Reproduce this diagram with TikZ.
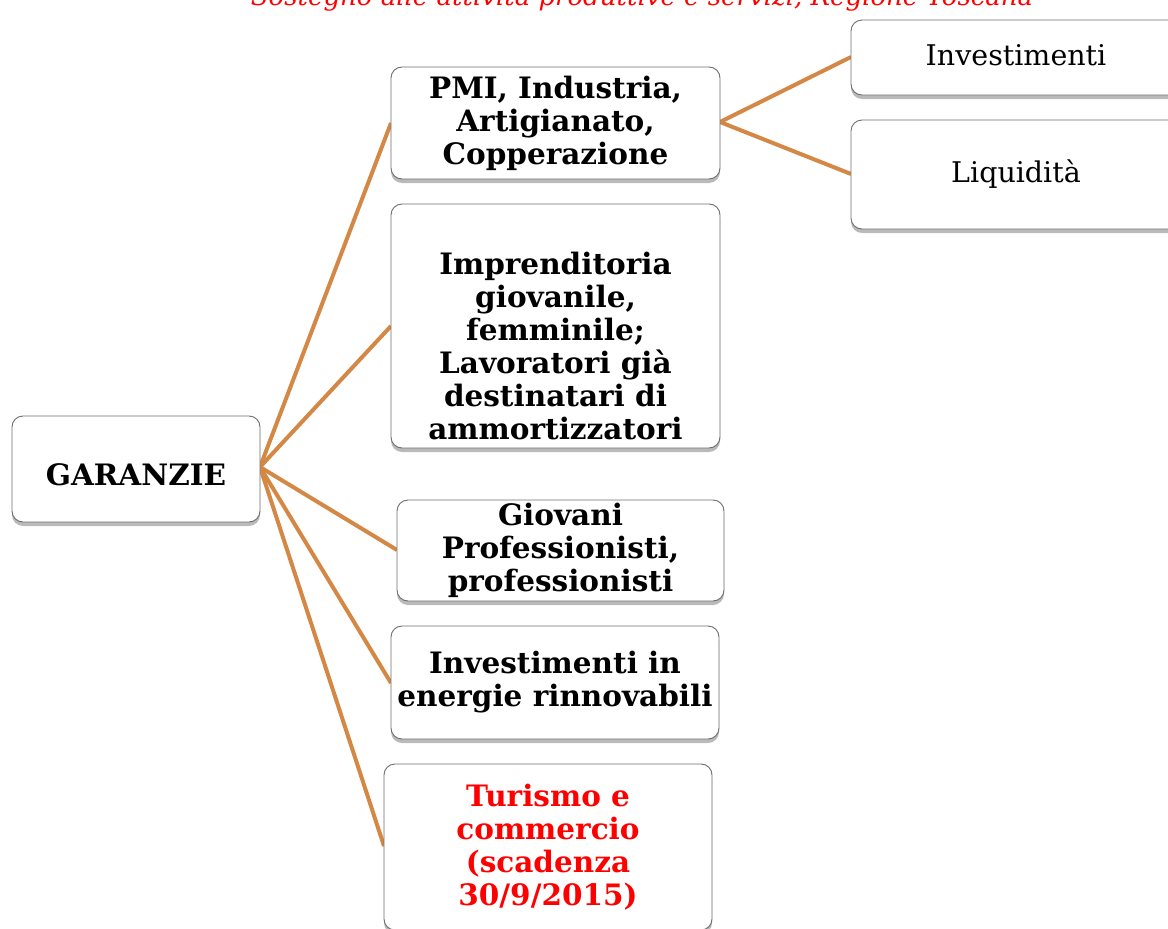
\documentclass[tikz,border=0pt]{standalone}
\usepackage{fontspec}
\setmainfont{DejaVu Serif}
\usetikzlibrary{shadows}
\definecolor{conn}{RGB}{212,136,70}
\definecolor{bord}{RGB}{110,110,110}
\definecolor{redtxt}{RGB}{255,0,0}
\tikzset{
  box/.style={draw=bord, line width=0.9pt, rounded corners=11pt, fill=white, inner sep=0pt,
    align=center, font=\fontsize{29.5}{33}\selectfont\bfseries,
    drop shadow={shadow xshift=0pt, shadow yshift=-4pt, opacity=0.45, fill=black!60}},
  rbox/.style={box, font=\fontsize{28.5}{33}\selectfont},
  conn/.style={draw=conn, line width=4pt}
}
\begin{document}
\begin{tikzpicture}[x=1pt,y=-1pt]
\useasboundingbox (0,0) rectangle (1168,929);
\clip (0,0) rectangle (1168,929);
\node[font=\fontsize{26}{30}\selectfont\itshape, text=redtxt, anchor=base] (title) at (642,5) {Sostegno alle attività produttive e servizi, Regione Toscana};
% connectors first
\coordinate (g) at (260,467);
\coordinate (pR) at (720,122);
\draw[conn] (g) -- (391,123) coordinate (c1);
\draw[conn] (g) -- (391,326) coordinate (c2);
\draw[conn] (g) -- (397,550) coordinate (c3);
\draw[conn] (g) -- (391,683) coordinate (c4);
\draw[conn] (g) -- (384,846) coordinate (c5);
\draw[conn] (pR) -- (851,57) coordinate (c6);
\draw[conn] (pR) -- (851,174) coordinate (c7);
% boxes
\node[box, minimum width=248pt, minimum height=106pt] (garanzie) at (136,469) {\mbox{}\\GARANZIE};
\node[box, minimum width=329pt, minimum height=112pt] (pmi) at (555.5,123) {PMI, Industria,\\Artigianato,\\Copperazione};
\node[box, minimum width=329pt, minimum height=244pt] (impr) at (555.5,326) {\mbox{}\\[30pt]Imprenditoria\\giovanile,\\femminile;\\Lavoratori già\\destinatari di\\ammortizzatori};
\node[box, minimum width=327pt, minimum height=101pt] (giov) at (560.5,550.5) {Giovani\\Professionisti,\\professionisti};
\node[box, minimum width=328pt, minimum height=113pt] (energ) at (555,682.5) {Investimenti in\\energie rinnovabili};
\node[box, minimum width=328pt, minimum height=166pt, text=redtxt] (turismo) at (548,847) {Turismo e\\commercio\\(scadenza\\30/9/2015)};
\node[rbox, minimum width=330pt, minimum height=75pt] (inv) at (1016,57.5) {\raisebox{4pt}{Investimenti}};
\node[rbox, minimum width=330pt, minimum height=109pt] (liq) at (1016,174.5) {Liquidità};
\end{tikzpicture}
\end{document}
